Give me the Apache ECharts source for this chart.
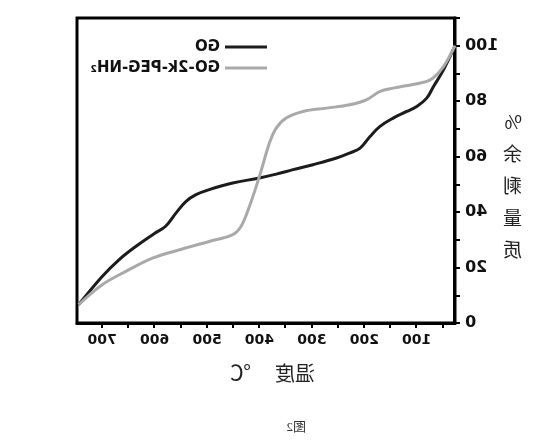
<!DOCTYPE html>
<html>
<head>
<meta charset="utf-8">
<script src="https://cdn.jsdelivr.net/npm/echarts@6/dist/echarts.min.js"></script>
<style>
  html, body { margin: 0; padding: 0; background: #fff; }
  /* the reference figure is mirrored left-right, so the whole chart is flipped */
  #chart { width: 548px; height: 445px; transform: scaleX(-1); }
</style>
</head>
<body>
<div id="chart"></div>
<script>
// 温度 (℃) / 质量剩余 (%)
const goTemp = [27, 49, 68, 81, 100, 119, 145, 170, 189, 208, 228, 253, 298, 336, 368, 400, 451, 496, 521, 540, 559, 579, 601, 636, 668, 700, 745]
const goMass = [100, 91.3, 85.3, 81.1, 78.1, 76.3, 73.9, 70.9, 67.3, 63.1, 61.3, 59.5, 57.1, 55.3, 53.7, 52.3, 50.5, 48.1, 46.3, 43.9, 39.7, 34.9, 32.2, 27.6, 22.8, 16.8, 6.6]
const pegTemp = [27, 49, 74, 100, 145, 170, 196, 228, 272, 317, 349, 368, 381, 400, 419, 435, 451, 496, 547, 604, 655, 700, 745]
const pegMass = [100, 92.5, 87.7, 86.3, 84.7, 83.5, 80.5, 78.7, 77.5, 76.3, 73.9, 70.3, 64.9, 52.9, 42.1, 34.9, 31.9, 29.4, 26.7, 23.4, 18.6, 13.8, 6.6]
const xLabels = [100, 200, 300, 400, 500, 600, 700]
const xTicks = [50, 100, 150, 200, 250, 300, 350, 400, 450, 500, 550, 600, 650, 700]
const seriesNames = ['GO', 'GO-2k-PEG-NH₂']

const zip = (a, b) => a.map((v, i) => [v, b[i]])

let myChart = echarts.init(document.getElementById('chart'))
let option = {
  backgroundColor: '#fff',
  animation: false,
  grid: {
    left: 93,
    right: 77,
    top: 18,
    bottom: 122,
    show: true,
    borderColor: '#000',
    borderWidth: 3
  },
  legend: {
    orient: 'vertical',
    left: 276,
    top: 34,
    itemWidth: 42,
    itemHeight: 3,
    itemGap: 5,
    icon: 'rect',
    data: seriesNames,
    textStyle: {
      fontFamily: 'DejaVu Sans',
      fontWeight: 'bold',
      fontSize: 15,
      lineHeight: 16,
      color: '#111'
    }
  },
  xAxis: {
    type: 'value',
    min: 27,
    max: 748,
    splitLine: { show: false },
    axisLine: { onZero: false, lineStyle: { color: '#000', width: 3 } },
    axisTick: {
      customValues: xTicks,
      length: 5,
      lineStyle: { color: '#000', width: 2 }
    },
    axisLabel: {
      customValues: xLabels,
      margin: 10,
      color: '#111',
      fontFamily: 'DejaVu Sans',
      fontWeight: 'bold',
      fontSize: 14
    }
  },
  yAxis: {
    type: 'value',
    min: 0,
    max: 110,
    interval: 10,
    splitLine: { show: false },
    axisLine: { lineStyle: { color: '#000', width: 3 } },
    axisTick: { length: 5, lineStyle: { color: '#000', width: 2 } },
    axisLabel: {
      margin: 10,
      color: '#111',
      fontFamily: 'DejaVu Sans',
      fontWeight: 'bold',
      fontSize: 16,
      formatter: v => (v % 20 === 0 && v <= 100 ? String(v) : '')
    }
  },
  graphic: [
    {
      type: 'text',
      left: 26,
      top: 106,
      style: {
        text: '%\n余\n剩\n量\n质',
        font: '19px "Noto Sans CJK SC"',
        lineHeight: 32,
        align: 'center',
        fill: '#222'
      }
    },
    {
      type: 'text',
      left: 233,
      top: 363,
      style: { text: '温度', font: '20px "Noto Sans CJK SC"', fill: '#222' }
    },
    {
      type: 'text',
      left: 297,
      top: 362,
      style: { text: '℃', font: '21px "Noto Sans CJK SC"', fill: '#222' }
    },
    {
      type: 'text',
      left: 242,
      top: 421,
      style: { text: '图2', font: '13px "Liberation Serif", "Noto Sans CJK SC"', fill: '#333' }
    }
  ],
  series: [
    {
      name: seriesNames[0],
      type: 'line',
      smooth: 0.4,
      showSymbol: false,
      color: '#1c1c1c',
      lineStyle: { width: 3 },
      data: zip(goTemp, goMass)
    },
    {
      name: seriesNames[1],
      type: 'line',
      smooth: 0.35,
      showSymbol: false,
      color: '#a9a9a9',
      lineStyle: { width: 3 },
      data: zip(pegTemp, pegMass)
    }
  ]
}
myChart.setOption(option)
</script>
</body>
</html>
